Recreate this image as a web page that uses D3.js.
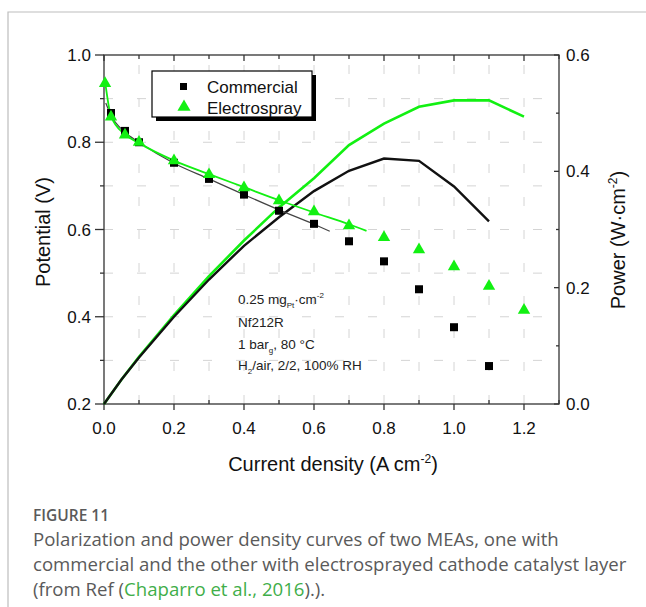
<!DOCTYPE html>
<html>
<head>
<meta charset="utf-8">
<script src="https://cdn.jsdelivr.net/npm/d3@7"></script>
<style>
  body { margin: 0; background: #fff; }
  svg { display: block; }
  .tick-label { font-family: "Liberation Sans", Arial, sans-serif; font-size: 17px; fill: #111; }
  .axis-title { font-family: "Liberation Sans", Arial, sans-serif; font-size: 20px; fill: #111; }
  .caption { font-family: "Open Sans", sans-serif; fill: #5a5a5a; }
</style>
</head>
<body>
<svg width="646" height="607"></svg>
<script>
// polarization data (current density A/cm2, potential V)
var commercialI = [0.02, 0.06, 0.1, 0.2, 0.3, 0.4, 0.5, 0.6, 0.7, 0.8, 0.9, 1.0, 1.1];
var commercialV = [0.867, 0.826, 0.800, 0.753, 0.716, 0.680, 0.643, 0.613, 0.573, 0.527, 0.463, 0.376, 0.287];
var electroI = [0.003, 0.02, 0.06, 0.1, 0.2, 0.3, 0.4, 0.5, 0.6, 0.7, 0.8, 0.9, 1.0, 1.1, 1.2];
var electroV = [0.935, 0.858, 0.817, 0.800, 0.758, 0.726, 0.696, 0.666, 0.641, 0.609, 0.582, 0.554, 0.515, 0.470, 0.415];

// fitted polarization lines
var commercialFitI = [0.005, 0.02, 0.06, 0.1, 0.2, 0.3, 0.4, 0.5, 0.6, 0.645];
var commercialFitV = [0.890, 0.862, 0.823, 0.800, 0.752, 0.716, 0.680, 0.645, 0.612, 0.596];
var electroFitI = [0.003, 0.02, 0.06, 0.1, 0.2, 0.3, 0.4, 0.5, 0.6, 0.7, 0.75];
var electroFitV = [0.940, 0.860, 0.818, 0.798, 0.758, 0.727, 0.697, 0.667, 0.639, 0.612, 0.597];

// power density (W/cm2)
var powerI = [0, 0.05, 0.1, 0.2, 0.3, 0.4, 0.5, 0.6, 0.7, 0.8, 0.9, 1.0, 1.1, 1.2];
var commercialP = [0, 0.042, 0.080, 0.150, 0.214, 0.272, 0.321, 0.366, 0.401, 0.422, 0.418, 0.374, 0.314];
var electroP = [0, 0.042, 0.081, 0.153, 0.220, 0.281, 0.338, 0.388, 0.445, 0.482, 0.511, 0.522, 0.522, 0.494];

var xTicks = [0.0, 0.2, 0.4, 0.6, 0.8, 1.0, 1.2];
var yLeftTicks = [0.2, 0.4, 0.6, 0.8, 1.0];
var yRightTicks = [0.0, 0.2, 0.4, 0.6];
var notes = ['0.25 mg', 'Nf212R', '1 bar', 'H'];

var green = '#12f012';
var svg = d3.select('svg');

// page frame
svg.append('path').attr('d', 'M8,607 V12 H646').attr('fill', 'none').attr('stroke', '#bdbdbd').attr('stroke-width', 1.2);

var x = d3.scaleLinear().domain([0, 1.3]).range([104, 559]);
var yL = d3.scaleLinear().domain([0.2, 1.0]).range([404, 55]);
var yR = d3.scaleLinear().domain([0, 0.6]).range([404, 55]);

// broken grid
var grid = svg.append('g').attr('stroke', '#d4d4d4').attr('stroke-width', 1).attr('stroke-dasharray', '9,24');
grid.selectAll('.vg').data(d3.range(1, 13).map(function(d) { return d / 10; }))
  .enter().append('line')
  .attr('x1', function(d) { return x(d); }).attr('x2', function(d) { return x(d); })
  .attr('y1', 404).attr('y2', 55);
grid.selectAll('.hg').data(d3.range(3, 10).map(function(d) { return d / 10; }))
  .enter().append('line')
  .attr('y1', function(d) { return yL(d); }).attr('y2', function(d) { return yL(d); })
  .attr('x1', 104).attr('x2', 559);

// axes
var axisG = svg.append('g').attr('stroke', '#333').attr('stroke-width', 1.3);
axisG.append('rect').attr('x', 104).attr('y', 55).attr('width', 455).attr('height', 349).attr('fill', 'none');

var xAll = d3.range(0, 14).map(function(d) { return d / 10; });
axisG.selectAll('.xtb').data(xAll).enter().append('line')
  .attr('x1', function(d) { return x(d); }).attr('x2', function(d) { return x(d); })
  .attr('y1', function(d, i) { return i % 2 ? 400 : 404; }).attr('y2', function(d, i) { return i % 2 ? 404 : 410; });
axisG.selectAll('.xtt').data(xAll).enter().append('line')
  .attr('x1', function(d) { return x(d); }).attr('x2', function(d) { return x(d); })
  .attr('y1', 55).attr('y2', function(d, i) { return i % 2 ? 59 : 61; });

var yAll = d3.range(2, 11).map(function(d) { return d / 10; });
axisG.selectAll('.ytl').data(yAll).enter().append('line')
  .attr('y1', function(d) { return yL(d); }).attr('y2', function(d) { return yL(d); })
  .attr('x1', 104).attr('x2', function(d, i) { return i % 2 ? 100 : 95; });

var yRAll = d3.range(0, 7).map(function(d) { return d / 10; });
axisG.selectAll('.ytr').data(yRAll).enter().append('line')
  .attr('y1', function(d) { return yR(d); }).attr('y2', function(d) { return yR(d); })
  .attr('x1', 559).attr('x2', function(d, i) { return i % 2 ? 556 : 554; });

svg.selectAll('.xl').data(xTicks).enter().append('text')
  .attr('class', 'tick-label').attr('text-anchor', 'middle')
  .attr('x', function(d) { return x(d); }).attr('y', 434)
  .text(function(d) { return d3.format('.1f')(d); });
svg.selectAll('.yl').data(yLeftTicks).enter().append('text')
  .attr('class', 'tick-label').attr('text-anchor', 'end')
  .attr('x', 91).attr('y', function(d) { return yL(d) + 6; })
  .text(function(d) { return d3.format('.1f')(d); });
svg.selectAll('.yr').data(yRightTicks).enter().append('text')
  .attr('class', 'tick-label').attr('text-anchor', 'start')
  .attr('x', 566).attr('y', function(d) { return yR(d) + 6; })
  .text(function(d) { return d3.format('.1f')(d); });

// axis titles
svg.append('text').attr('class', 'axis-title').attr('text-anchor', 'middle')
  .attr('transform', 'translate(50,232) rotate(-90)').text('Potential (V)');
var rt = svg.append('text').attr('class', 'axis-title').attr('text-anchor', 'middle')
  .attr('transform', 'translate(625,240) rotate(-90)');
rt.append('tspan').text('Power (W·cm');
rt.append('tspan').attr('dy', -8).attr('font-size', 12).text('-2');
rt.append('tspan').attr('dy', 8).text(')');
var xt = svg.append('text').attr('class', 'axis-title').attr('text-anchor', 'middle')
  .attr('x', 333).attr('y', 471);
xt.append('tspan').text('Current density (A cm');
xt.append('tspan').attr('dy', -8).attr('font-size', 12).text('-2');
xt.append('tspan').attr('dy', 8).text(')');

// power curves
var lineP = d3.line().x(function(d) { return x(d[0]); }).y(function(d) { return yR(d[1]); });
svg.append('path').datum(d3.zip(powerI, electroP)).attr('d', lineP)
  .attr('fill', 'none').attr('stroke', green).attr('stroke-width', 2.6);
svg.append('path').datum(d3.zip(powerI.slice(0, commercialP.length), commercialP)).attr('d', lineP)
  .attr('fill', 'none').attr('stroke', '#111').attr('stroke-width', 2.4);

// fit lines
var lineV = d3.line().x(function(d) { return x(d[0]); }).y(function(d) { return yL(d[1]); }).curve(d3.curveMonotoneX);
svg.append('path').datum(d3.zip(commercialFitI, commercialFitV)).attr('d', lineV)
  .attr('fill', 'none').attr('stroke', '#444').attr('stroke-width', 1.2);
svg.append('path').datum(d3.zip(electroFitI, electroFitV)).attr('d', lineV)
  .attr('fill', 'none').attr('stroke', green).attr('stroke-width', 1.8);

// markers
svg.selectAll('.sq').data(d3.zip(commercialI, commercialV)).enter().append('rect')
  .attr('x', function(d) { return x(d[0]) - 4; }).attr('y', function(d) { return yL(d[1]) - 4; })
  .attr('width', 8).attr('height', 8).attr('fill', '#000');
var tri = d3.symbol().type(d3.symbolTriangle).size(66);
svg.selectAll('.tr').data(d3.zip(electroI, electroV)).enter().append('path')
  .attr('d', tri)
  .attr('transform', function(d) { return 'translate(' + x(d[0]) + ',' + yL(d[1]) + ')'; })
  .attr('fill', green);

// legend
var lg = svg.append('g');
lg.append('rect').attr('x', 156).attr('y', 75).attr('width', 160).attr('height', 46).attr('fill', '#000');
lg.append('rect').attr('x', 152).attr('y', 71).attr('width', 160).attr('height', 46)
  .attr('fill', '#fff').attr('stroke', '#000').attr('stroke-width', 1.2);
lg.append('rect').attr('x', 180).attr('y', 83).attr('width', 7).attr('height', 7).attr('fill', '#000');
lg.append('path').attr('d', d3.symbol().type(d3.symbolTriangle).size(75)).attr('transform', 'translate(184,107)').attr('fill', green);
lg.append('text').attr('class', 'axis-title').attr('x', 207).attr('y', 93).style('font-size', '17px').text('Commercial');
lg.append('text').attr('class', 'axis-title').attr('x', 207).attr('y', 114).style('font-size', '17px').text('Electrospray');

// conditions note
var ng = svg.append('g').attr('font-family', 'Liberation Sans, Arial, sans-serif').attr('font-size', 13.5).attr('fill', '#222');
var n1 = ng.append('text').attr('x', 238).attr('y', 304);
n1.append('tspan').text(notes[0]);
n1.append('tspan').attr('dy', 4).attr('font-size', 8).text('Pt');
n1.append('tspan').attr('dy', -4).text('·cm');
n1.append('tspan').attr('dy', -6).attr('font-size', 8).text('-2');
ng.append('text').attr('x', 238).attr('y', 327).text(notes[1]);
var n3 = ng.append('text').attr('x', 238).attr('y', 349);
n3.append('tspan').text(notes[2]);
n3.append('tspan').attr('dy', 4).attr('font-size', 8).text('g');
n3.append('tspan').attr('dy', -4).text(', 80 °C');
var n4 = ng.append('text').attr('x', 238).attr('y', 370);
n4.append('tspan').text(notes[3]);
n4.append('tspan').attr('dy', 4).attr('font-size', 8).text('2');
n4.append('tspan').attr('dy', -4).text('/air, 2/2, 100% RH');

// caption
svg.append('text').attr('class', 'caption').attr('x', 33).attr('y', 521).attr('font-size', 15.5).attr('font-weight', 600).text('FIGURE 11');
var capLines = ['Polarization and power density curves of two MEAs, one with',
  'commercial and the other with electrosprayed cathode catalyst layer'];
svg.selectAll('.cap').data(capLines).enter().append('text')
  .attr('class', 'caption').attr('x', 33).attr('y', function(d, i) { return 546 + i * 25; })
  .attr('font-size', 18.6).text(function(d) { return d; });
var c3 = svg.append('text').attr('class', 'caption').attr('x', 33).attr('y', 596).attr('font-size', 18.6);
c3.append('tspan').text('(from Ref (');
c3.append('tspan').attr('fill', '#3fae49').text('Chaparro et al., 2016');
c3.append('tspan').text(').).');
</script>
</body>
</html>
